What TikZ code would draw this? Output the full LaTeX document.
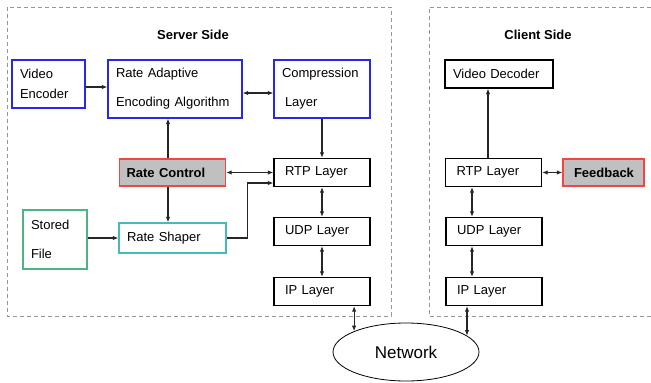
\documentclass[tikz,border=0pt]{standalone}
\usepackage{fontspec}
\setmainfont{Liberation Sans}
\usetikzlibrary{arrows.meta,shapes.geometric}

\definecolor{boxblue}{RGB}{40,40,235}
\definecolor{boxred}{RGB}{240,70,70}
\definecolor{boxgreen}{RGB}{80,180,130}
\definecolor{boxcyan}{RGB}{70,185,185}
\definecolor{boxgray}{RGB}{192,192,192}
\definecolor{framegray}{RGB}{150,150,150}

\begin{document}
\begin{tikzpicture}[x=1pt,y=-1pt,>={Latex[length=5.5pt,width=4.5pt]},line width=1pt,
	box/.style={draw,rectangle,line width=1.2pt,inner xsep=8pt,inner ysep=0pt,align=left,
		font=\fontsize{13}{29}\selectfont},
	layer/.style={box,inner xsep=11pt,text width=74pt,minimum height=28pt},
	alert/.style={box,draw=boxred,fill=boxgray,minimum height=27pt,
		font=\fontsize{13}{15}\selectfont\bfseries},
	title/.style={font=\fontsize{13}{15}\selectfont\bfseries},
	link/.style={draw=black!85,line width=1.1pt},
	frame/.style={draw=framegray,line width=1pt,dash pattern=on 4pt off 3pt}]

	\useasboundingbox (0,0) rectangle (651,383);

	% dashed frames of the two sides
	\draw[frame] (7,7) rectangle (391,316);
	\draw[frame] (651,7) -| (429,316) -- (651,316);
	\node[title] (srvtitle) at (193,35) {Server Side};
	\node[title] (clititle) at (538,35) {Client Side};

	% server side
	\node[box,draw=boxblue,text width=80pt,minimum height=58pt] (comp) at (322,89) {Compression\\\hspace{3pt}Layer};
	\node[box,draw=boxblue,text width=118pt,minimum height=58pt] (rae) [node distance=147pt,left of=comp] {Rate Adaptive\\Encoding Algorithm};
	\node[box,draw=boxblue,text width=57pt,minimum height=48pt,font=\fontsize{13}{20}\selectfont] (enc) [node distance=126.5pt,left of=rae,yshift=5pt] {Video\\Encoder};
	\node[layer] (rtps) [node distance=83.5pt,below of=comp] {RTP Layer};
	\node[layer] (udps) [node distance=59pt,below of=rtps] {UDP Layer};
	\node[layer] (ips) [node distance=60pt,below of=udps] {IP Layer};
	\node[alert,text width=92pt,inner xsep=7pt] (rc) [node distance=149.5pt,left of=rtps] {Rate Control};
	\node[box,draw=boxcyan,text width=91pt,minimum height=30pt] (shaper) [node distance=65.5pt,below of=rc] {Rate Shaper};
	\node[box,draw=boxgreen,text width=48pt,minimum height=59pt] (stored) [node distance=117.5pt,left of=shaper,yshift=-1.5pt] {Stored\\File};

	% client side
	\node[layer] (rtpc) [node distance=171.5pt,right of=rtps] {RTP Layer};
	\node[layer,inner xsep=8pt,text width=92pt] (dec) [node distance=98.5pt,above of=rtpc,xshift=5.5pt] {Video Decoder};
	\node[alert,inner xsep=11pt,text width=59pt] (fb) [node distance=110pt,right of=rtpc] {Feedback};
	\node[layer] (udpc) [node distance=59pt,below of=rtpc,xshift=.5pt] {UDP Layer};
	\node[layer] (ipc) [node distance=60pt,below of=udpc] {IP Layer};

	\node[ellipse,draw,line width=.8pt,minimum width=146pt,minimum height=58pt,inner sep=0pt,
		font=\fontsize{17}{20}\selectfont] (net) at (406,352) {Network};

	\path[->]
	(comp) edge[link] (rtps)
	(stored.east |- shaper) edge[link] (shaper);
	\path[<->]
	(rc) edge[link] (rtps)
	(rtps) edge[link] (udps)
	(udps) edge[link] (ips)
	(rtpc) edge[link] (fb);

	\draw[->,link] ([yshift=-3pt]enc.east) -- ([yshift=-3pt]enc.east -| rae.west);
	\draw[<->,link] ([yshift=-4pt]rae.east) -- ([yshift=-4pt]rae.east -| comp.west);
	\draw[->,link] ([xshift=-4.5pt]rc.north) -- ([xshift=-4.5pt]rc.north |- rae.south);
	\draw[->,link] ([xshift=-4.5pt]rc.south) -- ([xshift=-4.5pt]rc.south |- shaper.north);
	\draw[->,link] (shaper.east) -- ++(21,0) |- ([yshift=-10.5pt]rtps.west);
	\draw[<->,link] (net.north west |- ips.south) -- (net.north west);

	\draw[->,link] ([xshift=-5.5pt]rtpc.north) -- ([xshift=-5.5pt]rtpc.north |- dec.south);
	\draw[<->,link] ([xshift=-21.5pt]rtpc.south) -- ([xshift=-21.5pt]rtpc.south |- udpc.north);
	\draw[<->,link] ([xshift=-22pt]udpc.south) -- ([xshift=-22pt]udpc.south |- ipc.north);
	\draw[<->,link] (net.15 |- ipc.south) -- (net.15);
\end{tikzpicture}
\end{document}
